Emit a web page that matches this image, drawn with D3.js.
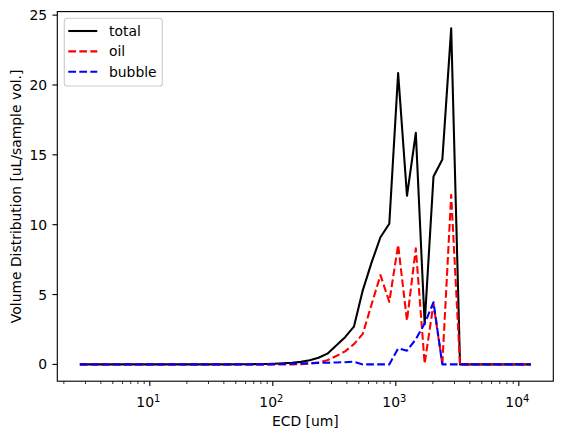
<!DOCTYPE html>
<html>
<head>
<meta charset="utf-8">
<script src="https://cdn.jsdelivr.net/npm/d3@7"></script>
<style>
  body { margin: 0; background: #fff; }
  svg { display: block; font-family: "DejaVu Sans", sans-serif; }
</style>
</head>
<body>
<div id="chart"></div>
<script>
// ECD bin centres [um]
const ecd = [2.698, 3.184, 3.757, 4.433, 5.231, 6.172, 7.283, 8.594, 10.14, 11.97,
  14.12, 16.66, 19.66, 23.20, 27.38, 32.31, 38.12, 44.98, 53.08, 62.63,
  73.91, 87.21, 102.9, 121.4, 143.3, 169.1, 199.5, 235.4, 277.8, 327.8,
  386.8, 456.4, 538.6, 635.6, 750.0, 884.9, 1044.2, 1232.2, 1454.0, 1715.7,
  2024.5, 2388.9, 2818.9, 3326.4, 3925.1, 4631.6, 5465.3, 6449.1, 7609.9, 8979.7,
  10596, 12503];

// volume distributions [uL/sample vol.]
const total = [0, 0, 0, 0, 0, 0, 0, 0, 0, 0,
  0, 0, 0, 0, 0, 0, 0, 0, 0.01, 0.01,
  0.02, 0.03, 0.05, 0.08, 0.12, 0.18, 0.29, 0.48, 0.77, 1.36,
  1.95, 2.7, 5.3, 7.3, 9.1, 10.07, 20.85, 12.07, 16.57, 2.9,
  13.45, 14.66, 24.05, 0, 0, 0, 0, 0, 0, 0,
  0, 0];
const oil = [0, 0, 0, 0, 0, 0, 0, 0, 0, 0,
  0, 0, 0, 0, 0, 0, 0, 0, 0, 0,
  0, 0, 0, 0, 0, 0.02, 0.06, 0.14, 0.3, 0.6,
  0.93, 1.45, 2.18, 4.3, 6.39, 4.48, 8.55, 3.13, 8.31, 0.05,
  4.35, 0, 12.14, 0, 0, 0, 0, 0, 0, 0,
  0, 0];
const bubble = [0, 0, 0, 0, 0, 0, 0, 0, 0, 0,
  0, 0, 0, 0, 0, 0, 0, 0, 0, 0,
  0, 0, 0.02, 0.03, 0.05, 0.07, 0.09, 0.11, 0.12, 0.14,
  0.16, 0.19, 0, 0, 0, 0, 1.15, 0.98, 1.8, 2.92,
  4.45, 0, 0, 0, 0, 0, 0, 0, 0, 0,
  0, 0];

const seriesNames = ["total", "oil", "bubble"];
const seriesValues = [total, oil, bubble];
const seriesColors = ["#000000", "#ff0000", "#0000ff"];
const seriesDash = [null, "7.7,3.33", "7.7,3.33"];

const yTicks = [0, 5, 10, 15, 20, 25];
const xMajor = [10, 100, 1000, 10000];

const width = 562, height = 439;
const margins = {top: 11.6, right: 8.7, bottom: 57.8, left: 57.3};
const fontSize = 13.9;

const svg = d3.select("#chart")
  .append("svg")
  .attr("width", width)
  .attr("height", height);

// log x scale with matplotlib-like 5% margins (in log space)
const lx = d3.extent(ecd).map(Math.log10);
const padX = (lx[1] - lx[0]) * 0.05;
const xScale = d3.scaleLog()
  .domain([Math.pow(10, lx[0] - padX), Math.pow(10, lx[1] + padX)])
  .range([margins.left, width - margins.right]);

const yMax = d3.max(seriesValues, s => d3.max(s));
const padY = yMax * 0.05;
const yScale = d3.scaleLinear()
  .domain([-padY, yMax + padY])
  .range([height - margins.bottom, margins.top]);

// clip to the axes
svg.append("clipPath").attr("id", "clip")
  .append("rect")
  .attr("x", margins.left).attr("y", margins.top)
  .attr("width", width - margins.left - margins.right)
  .attr("height", height - margins.top - margins.bottom);

const line = d3.line()
  .x((d, i) => xScale(ecd[i]))
  .y(d => yScale(d));

svg.append("g")
  .attr("clip-path", "url(#clip)")
  .selectAll("path")
  .data(seriesValues)
  .join("path")
    .attr("d", d => line(d))
    .style("fill", "none")
    .style("stroke", (d, i) => seriesColors[i])
    .style("stroke-width", 2.08)
    .style("stroke-linejoin", "round")
    .style("stroke-dasharray", (d, i) => seriesDash[i]);

// x axis: major + minor ticks
const minor = [];
for (let e = 0; e <= 4; e++) {
  for (let m = 2; m <= 9; m++) {
    const v = m * Math.pow(10, e);
    if (v >= xScale.domain()[0] && v <= xScale.domain()[1]) minor.push(v);
  }
}
const xAxisG = svg.append("g")
  .attr("transform", `translate(0,${height - margins.bottom})`);
xAxisG.selectAll("line.minor")
  .data(minor)
  .join("line")
    .attr("x1", d => xScale(d)).attr("x2", d => xScale(d))
    .attr("y1", 0).attr("y2", 2.78)
    .style("stroke", "#000").style("stroke-width", 0.83);
xAxisG.selectAll("line.major")
  .data(xMajor)
  .join("line")
    .attr("x1", d => xScale(d)).attr("x2", d => xScale(d))
    .attr("y1", 0).attr("y2", 4.86)
    .style("stroke", "#000").style("stroke-width", 1.11);
const xLab = xAxisG.selectAll("text")
  .data(xMajor)
  .join("text")
    .attr("x", d => xScale(d) - 1.5)
    .attr("y", 25.7)
    .attr("text-anchor", "middle")
    .style("font-size", fontSize + "px")
    .style("fill", "#000");
xLab.append("tspan").text("10");
xLab.append("tspan")
  .attr("dy", -5)
  .style("font-size", "9.9px")
  .text(d => Math.round(Math.log10(d)));

// y axis
const yAxisG = svg.append("g");
yAxisG.selectAll("line")
  .data(yTicks)
  .join("line")
    .attr("x1", margins.left - 4.86).attr("x2", margins.left)
    .attr("y1", d => yScale(d)).attr("y2", d => yScale(d))
    .style("stroke", "#000").style("stroke-width", 1.11);
yAxisG.selectAll("text")
  .data(yTicks)
  .join("text")
    .attr("x", margins.left - 10.2)
    .attr("y", d => yScale(d))
    .attr("dy", "0.36em")
    .attr("text-anchor", "end")
    .style("font-size", fontSize + "px")
    .text(d => d);

// axes frame
svg.append("rect")
  .attr("x", margins.left).attr("y", margins.top)
  .attr("width", width - margins.left - margins.right)
  .attr("height", height - margins.top - margins.bottom)
  .style("fill", "none")
  .style("stroke", "#000")
  .style("stroke-width", 1.11);

// x label
svg.append("text")
  .attr("x", (margins.left + width - margins.right) / 2)
  .attr("y", 426)
  .attr("text-anchor", "middle")
  .style("font-size", fontSize + "px")
  .text("ECD [um]");

// y label
svg.append("text")
  .attr("transform", `translate(20.7,${(margins.top + height - margins.bottom) / 2}) rotate(-90)`)
  .attr("text-anchor", "middle")
  .style("font-size", fontSize + "px")
  .text("Volume Distribution [uL/sample vol.]");

// legend
const legend = svg.append("g");
legend.append("rect")
  .attr("x", 64.3).attr("y", 18.3)
  .attr("width", 98).attr("height", 67.7)
  .attr("rx", 2.8)
  .style("fill", "#fff").style("fill-opacity", 0.8)
  .style("stroke", "#cccccc").style("stroke-width", 1.1);
const rows = legend.selectAll("g.row")
  .data(seriesNames)
  .join("g")
    .attr("transform", (d, i) => `translate(0,${31 + i * 20.35})`);
rows.append("line")
  .attr("x1", 68.3).attr("x2", 97.3)
  .style("stroke", (d, i) => seriesColors[i])
  .style("stroke-width", 2.08)
  .style("stroke-dasharray", (d, i) => seriesDash[i]);
rows.append("text")
  .attr("x", 109)
  .attr("dy", "0.36em")
  .style("font-size", fontSize + "px")
  .text(d => d);
</script>
</body>
</html>
